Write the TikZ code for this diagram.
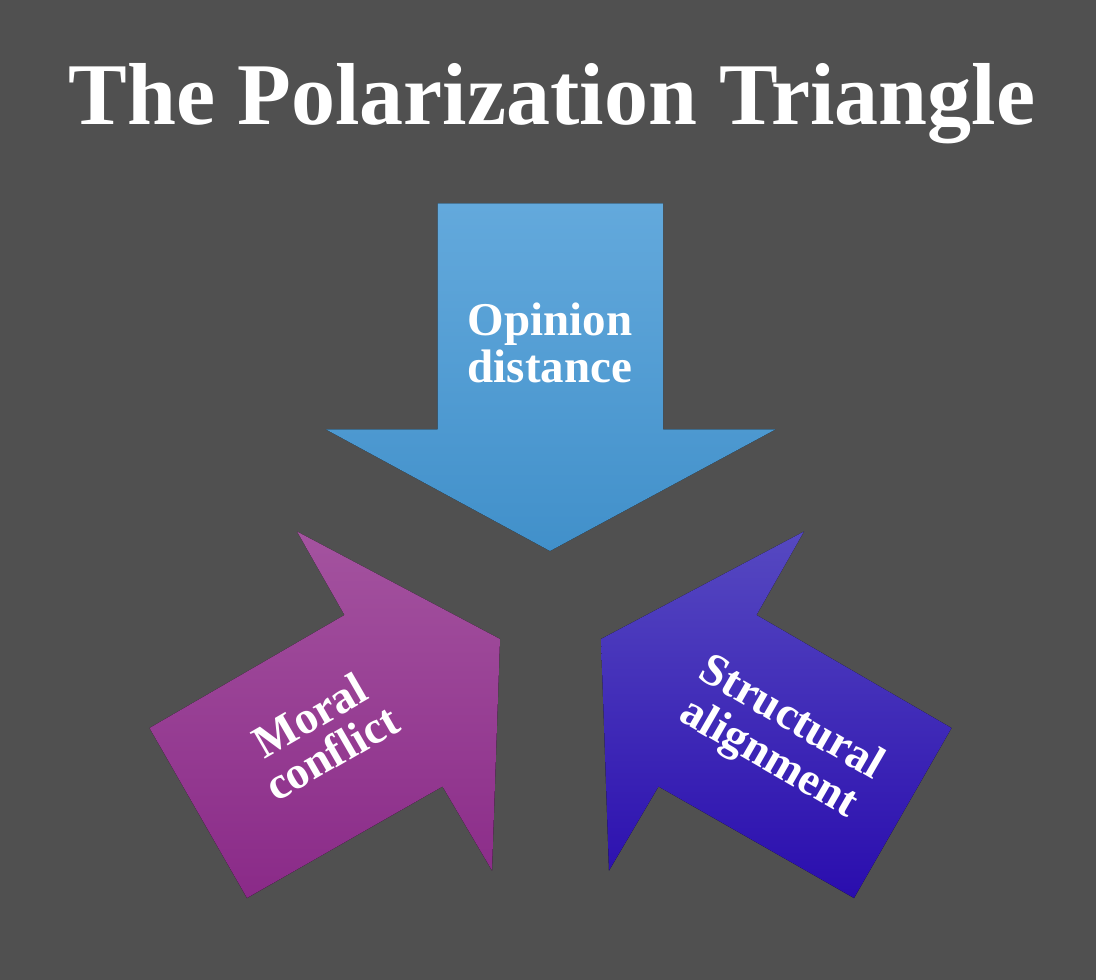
\documentclass[tikz,border=0pt]{standalone}
\usepackage{fontspec}
\setmainfont{Liberation Serif}
\begin{document}
\begin{tikzpicture}[x=1pt,y=-1pt,
  lbl/.style={text=white,font=\bfseries\fontsize{47}{47}\selectfont,inner sep=0pt,align=center},
  slbl/.style={text=white,font=\bfseries\fontsize{46}{#1}\selectfont,inner sep=0pt,align=center}]
\definecolor{bg}{HTML}{505050}
\definecolor{blueT}{HTML}{63A9DC}
\definecolor{blueB}{HTML}{4190CA}
\definecolor{magT}{HTML}{A4539F}
\definecolor{magB}{HTML}{8A2A88}
\definecolor{indT}{HTML}{5649C1}
\definecolor{indB}{HTML}{2A0DAE}
\useasboundingbox (0,0) rectangle (1096,980);
\fill[bg] (0,0) rectangle (1096,980);
% title
\node[text=white,font=\bfseries\fontsize{88}{88}\selectfont,inner sep=0pt,anchor=base] (title) at (552,124) {The Polarization Triangle};
% top arrow
\fill[top color=blueT,bottom color=blueB]
  (437.7,203.3) -- (663,203.3) -- (663,429.3) -- (775.7,429.3) -- (550,551)
  -- (325.7,429.3) -- (437.7,429.3) -- cycle;
% left arrow
\fill[top color=magT,bottom color=magB]
  (297,531.5) -- (500,639) -- (492,870.5) -- (442.5,786.5) -- (247,898)
  -- (149.5,728) -- (344.5,615) -- cycle;
% right arrow
\fill[top color=indT,bottom color=indB]
  (804,531.5) -- (601,639) -- (609,870.5) -- (658.5,786.5) -- (854,898)
  -- (951.5,728) -- (756.5,615) -- cycle;
% labels
\node[lbl] (op) at (550,342.6) {Opinion\\distance};
\node[slbl=43,rotate=30] (mc) at (320.6,733.9) {Moral\\conflict};
\node[slbl=46,rotate=-30] (sa) at (779.2,739.4) {Structural\\alignment};
\end{tikzpicture}
\end{document}
